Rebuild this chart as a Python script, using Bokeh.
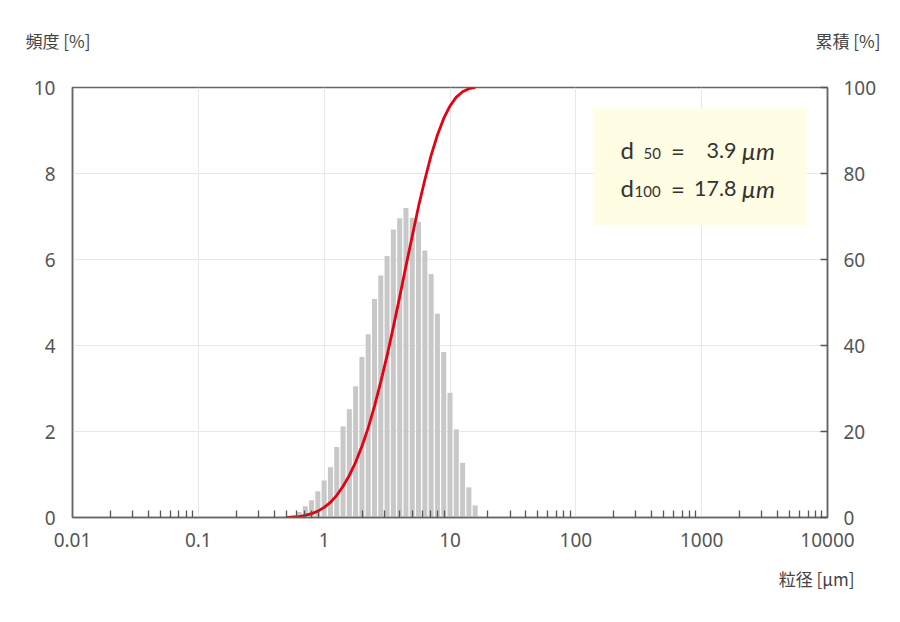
import numpy as np
from bokeh.plotting import figure
from bokeh.layouts import column
from bokeh.models import (Range1d, LinearAxis, FixedTicker, CustomJSTickFormatter,
                          BoxAnnotation, Label)
from bokeh.embed import file_html
from bokeh.resources import INLINE

# ---- data ----
sizes = [0.501, 0.562, 0.631, 0.708, 0.794, 0.891, 1.000, 1.122, 1.259, 1.413,
         1.585, 1.778, 1.995, 2.239, 2.512, 2.818, 3.162, 3.548, 3.981, 4.467,
         5.012, 5.623, 6.310, 7.079, 7.943, 8.913, 10.00, 11.22, 12.59, 14.13, 15.85]
freq = [0.03, 0.06, 0.13, 0.26, 0.40, 0.61, 0.86, 1.17, 1.64, 2.12,
        2.52, 3.05, 3.73, 4.26, 5.08, 5.63, 6.08, 6.70, 6.96, 7.20,
        6.97, 6.88, 6.21, 5.66, 4.74, 3.85, 2.90, 2.05, 1.27, 0.70, 0.28]
x_ticks = [0.01, 0.1, 1, 10, 100, 1000, 10000]
freq_ticks = [0, 2, 4, 6, 8, 10]
cum_ticks = [0, 20, 40, 60, 80, 100]
x_title = "粒径 [µm]"
y_title = "頻度 [%]"
y2_title = "累積 [%]"
d50_text = "3.9"
d100_text = "17.8"

cum = np.cumsum(freq)
step = sizes[1] / sizes[0]
bar_half = step ** 0.4
left = [s / bar_half for s in sizes]
right = [s * bar_half for s in sizes]
minor = [m * 10.0 ** e for e in range(-2, 4) for m in range(2, 10)]

W = 884
HEAD_H = 60
MAIN_H = 500
FOOT_H = 46

# page-pixel helpers for annotation placement (frame: x 72..827, y 87..517)
def X(px):
    return 10 ** ((px - 72) / 125.83 - 2)

def Y(py):
    return (517 - py) / 43.0

p = figure(width=W, height=MAIN_H, x_axis_type="log",
           x_range=Range1d(0.01, 10000), y_range=Range1d(0, 10),
           output_backend="svg", toolbar_location=None,
           min_border_left=72, min_border_right=W - 827,
           min_border_top=87 - HEAD_H, min_border_bottom=HEAD_H + MAIN_H - 517,
           frame_align=False)
p.background_fill_color = "white"
p.border_fill_color = "white"
p.outline_line_color = "#666666"
p.outline_line_width = 1.5

p.extra_y_ranges = {"cum": Range1d(0, 100)}

TICK_FONT = "Noto Sans"
TICK_COLOR = "#555555"

xa = p.xaxis[0]
xa.ticker = FixedTicker(ticks=x_ticks, minor_ticks=minor)
xa.formatter = CustomJSTickFormatter(code="return tick.toString();")
xa.major_tick_line_color = None
xa.major_tick_in = 0
xa.major_tick_out = 0
xa.minor_tick_in = 7
xa.minor_tick_out = 0
xa.minor_tick_line_color = "#555555"
xa.minor_tick_line_width = 1.3
xa.axis_line_color = "#666666"
xa.axis_line_width = 1.5
xa.major_label_text_font = TICK_FONT
xa.major_label_text_font_size = "19px"
xa.major_label_text_color = TICK_COLOR
xa.major_label_standoff = 15

ya = p.yaxis[0]
ya.ticker = FixedTicker(ticks=freq_ticks)
ya.major_tick_line_color = None
ya.major_tick_in = 0
ya.major_tick_out = 0
ya.minor_tick_line_color = None
ya.minor_tick_in = 0
ya.minor_tick_out = 0
ya.axis_line_color = "#666666"
ya.axis_line_width = 1.5
ya.major_label_text_font = TICK_FONT
ya.major_label_text_font_size = "19px"
ya.major_label_text_color = TICK_COLOR
ya.major_label_standoff = 17

ra = LinearAxis(y_range_name="cum", ticker=FixedTicker(ticks=cum_ticks))
ra.major_tick_in = 7
ra.major_tick_out = 0
ra.major_tick_line_color = "#555555"
ra.major_tick_line_width = 1.3
ra.minor_tick_line_color = None
ra.minor_tick_out = 0
ra.axis_line_color = "#666666"
ra.axis_line_width = 1.5
ra.major_label_text_font = TICK_FONT
ra.major_label_text_font_size = "19px"
ra.major_label_text_color = TICK_COLOR
ra.major_label_standoff = 16
p.add_layout(ra, "right")

p.xgrid.grid_line_color = "#e8e8e8"
p.ygrid.grid_line_color = "#e8e8e8"
p.xgrid.grid_line_width = 1
p.ygrid.grid_line_width = 1

p.quad(left=left, right=right, bottom=0, top=freq,
       fill_color="#c8c8c8", line_color=None)
p.line(sizes, cum, y_range_name="cum", line_color="#e60012", line_width=2.8)

box = BoxAnnotation(left=X(593), right=X(806), top=Y(108), bottom=Y(225),
                    fill_color="#fffde3", fill_alpha=1.0, line_color=None)
p.add_layout(box)

LEG_FONT = "Lato"
LEG_COLOR = "#333333"

def lab(fig, x, y, text, size, align="left", style="normal", font=LEG_FONT,
        color=LEG_COLOR, baseline="middle"):
    fig.add_layout(Label(x=x, y=y, text=text, text_font=font,
                         text_font_size=size, text_color=color,
                         text_align=align, text_baseline=baseline,
                         text_font_style=style))

# legend lines (y = visual centre of digits, page px)
for py, sub, subx, num in [(150, "50", 643, d50_text), (188, "100", 634, d100_text)]:
    lab(p, X(620), Y(py - 1), "d", "24px")
    lab(p, X(subx), Y(py + 3), sub, "15px")
    lab(p, X(677.5), Y(py), "=", "24px", align="center")
    lab(p, X(736), Y(py), num, "21.5px", align="right")
    lab(p, X(741), Y(py), "µm", "24px", style="italic")

def text_fig(h, y_top):
    f = figure(width=W, height=h, x_range=Range1d(0, W),
               y_range=Range1d(y_top + h, y_top),
               output_backend="svg", toolbar_location=None,
               x_axis_location=None, y_axis_location=None, min_border=0,
               frame_align=False)
    f.outline_line_color = None
    f.grid.visible = False
    f.background_fill_color = "white"
    f.border_fill_color = "white"
    return f

head = text_fig(HEAD_H, 0)
lab(head, 25, 40, y_title, "17px", font="Noto Sans CJK JP", color="#444444")
lab(head, 880, 40, y2_title, "17px", align="right", font="Noto Sans CJK JP", color="#444444")

foot = text_fig(FOOT_H, HEAD_H + MAIN_H)
lab(foot, 854, 578, x_title, "17px", align="right", font="Noto Sans CJK JP", color="#444444")

layout = column(head, p, foot, spacing=0)
open("out.html", "w").write(file_html(layout, INLINE))
